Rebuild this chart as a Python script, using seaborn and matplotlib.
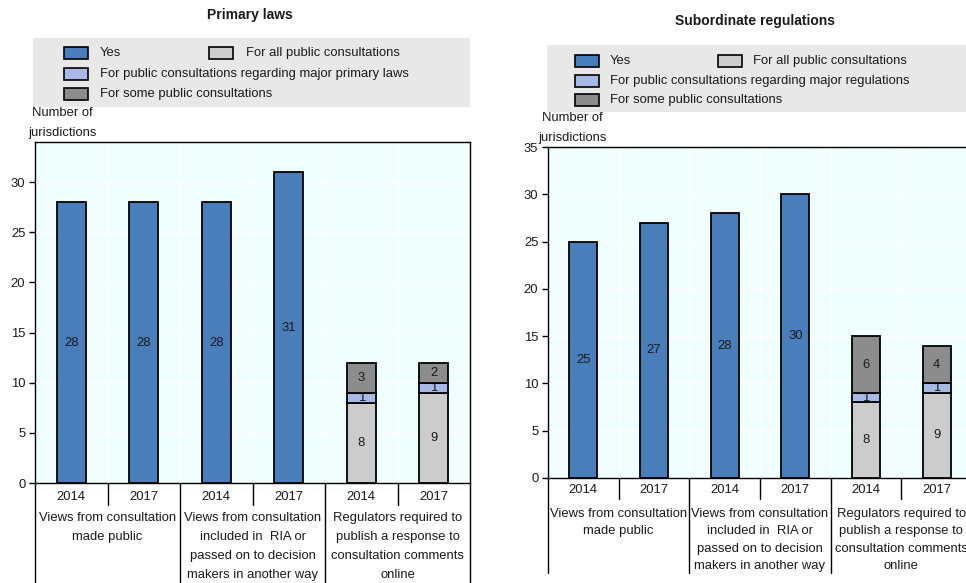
import matplotlib
matplotlib.use("Agg")
import matplotlib.pyplot as plt
import seaborn as sns
import pandas as pd
import numpy as np
from matplotlib.patches import Rectangle
from matplotlib.transforms import blended_transform_factory

# ---- data -------------------------------------------------------------
years = ["2014", "2017", "2014", "2017", "2014", "2017"]
groups = [
    "Views from consultation\nmade public",
    "Views from consultation\nincluded in  RIA or\npassed on to decision\nmakers in another way",
    "Regulators required to\npublish a response to\nconsultation comments\nonline",
]

primary_yes = [28, 28, 28, 31, 0, 0]
primary_all = [0, 0, 0, 0, 8, 9]
primary_major = [0, 0, 0, 0, 1, 1]
primary_some = [0, 0, 0, 0, 3, 2]

subordinate_yes = [25, 27, 28, 30, 0, 0]
subordinate_all = [0, 0, 0, 0, 8, 9]
subordinate_major = [0, 0, 0, 0, 1, 1]
subordinate_some = [0, 0, 0, 0, 6, 4]

label_yes = "Yes"
label_all = "For all public consultations"
label_major_primary = "For public consultations regarding major primary laws"
label_major_sub = "For public consultations regarding major regulations"
label_some = "For some public consultations"

# ---- style ------------------------------------------------------------
C_YES = "#4a7ebb"
C_ALL = "#cccccc"
C_MAJOR = "#a8b9e6"
C_SOME = "#8c8c8c"
C_BG = "#f0fefe"
C_LEG = "#e8e8e8"
TXT = "#1a1a1a"
FS = 9.4

sns.set_theme(style="white")
plt.rcParams["font.family"] = ["Liberation Sans", "DejaVu Sans"]
plt.rcParams["text.color"] = TXT

W, H = 966, 583
fig = plt.figure(figsize=(W / 100, H / 100), dpi=100)
fig.patch.set_facecolor("white")


def fx(px):
    return px / W


def fy(py):
    return 1 - py / H


def draw_panel(ax, layers, ymax, ax_h_px, depth_px, short_px, year_px, group_px, lsp):
    slots = [f"c{i}" for i in range(len(years))]
    base = np.zeros(len(years))
    for values, color in layers:
        vals = np.asarray(values, dtype=float)
        keep = vals > 0
        df = pd.DataFrame({"slot": np.array(slots)[keep], "value": vals[keep]})
        sns.barplot(data=df, x="slot", y="value", order=slots, color=color,
                    saturation=1, width=0.4, errorbar=None, edgecolor="black",
                    linewidth=1.3, bottom=base[keep], ax=ax, zorder=3)
        ax.bar_label(ax.containers[-1], labels=[f"{int(v)}" for v in vals[keep]],
                     label_type="center", fontsize=FS, color=TXT)
        base += vals

    ax.set_facecolor(C_BG)
    ax.set_xlim(-0.5, len(years) - 0.5)
    ax.set_ylim(0, ymax)
    ax.set_yticks(np.arange(0, ymax + 0.1, 5))
    ax.set_xlabel("")
    ax.set_ylabel("")
    ax.yaxis.grid(True, color="white", linewidth=1.0)
    for xb in np.arange(0.5, len(years) - 0.5, 1.0):
        ax.axvline(xb, color="white", linewidth=1.0, zorder=0.5)
    ax.set_axisbelow(True)
    ax.tick_params(axis="x", bottom=False, labelbottom=False)
    ax.tick_params(axis="y", left=True, length=4, width=1, color="black",
                   labelsize=FS, labelcolor=TXT, pad=3)
    for s in ax.spines.values():
        s.set_visible(True)
        s.set_color("black")
        s.set_linewidth(1.0)

    # category table beneath the bars
    trans = blended_transform_factory(ax.transData, ax.transAxes)
    for xb in [-0.5, 1.5, 3.5, 5.5]:
        ax.plot([xb, xb], [0, -depth_px / ax_h_px], transform=trans,
                color="black", lw=1.0, clip_on=False)
    for xb in [0.5, 2.5, 4.5]:
        ax.plot([xb, xb], [0, -short_px / ax_h_px], transform=trans,
                color="black", lw=1.0, clip_on=False)
    for i, y in enumerate(years):
        ax.text(i, -year_px / ax_h_px, y, transform=trans, ha="center",
                va="center", fontsize=FS, color=TXT)
    for j, g in enumerate(groups):
        ax.text(2 * j + 0.5, -group_px / ax_h_px, g, transform=trans,
                ha="center", va="top", fontsize=FS, color=TXT, linespacing=lsp)


def draw_legend(x0, y0, x1, y1, rows_y, patch_x, text_x, col2_patch_x, col2_text_x,
                entries, col2_entry):
    fig.patches.append(Rectangle((fx(x0), fy(y1)), fx(x1 - x0), (y1 - y0) / H,
                                 transform=fig.transFigure, facecolor=C_LEG,
                                 edgecolor="none", zorder=0))
    pw, ph = 24, 12
    for (lab, col), ry in zip(entries, rows_y):
        fig.patches.append(Rectangle((fx(patch_x), fy(ry + ph / 2)), fx(pw), ph / H,
                                     transform=fig.transFigure, facecolor=col,
                                     edgecolor="black", linewidth=1.2, zorder=1))
        fig.text(fx(text_x), fy(ry), lab, ha="left", va="center", fontsize=FS, color=TXT)
    lab, col = col2_entry
    ry = rows_y[0]
    fig.patches.append(Rectangle((fx(col2_patch_x), fy(ry + ph / 2)), fx(pw), ph / H,
                                 transform=fig.transFigure, facecolor=col,
                                 edgecolor="black", linewidth=1.2, zorder=1))
    fig.text(fx(col2_text_x), fy(ry), lab, ha="left", va="center", fontsize=FS, color=TXT)


# ---- left panel: primary laws -----------------------------------------
ax1 = fig.add_axes([fx(35), fy(483), fx(470 - 35), (483 - 142) / H])
draw_panel(ax1,
           [(primary_yes, C_YES), (primary_all, C_ALL),
            (primary_major, C_MAJOR), (primary_some, C_SOME)],
           34, 341, 100, 22, 14, 29, 1.78)
fig.text(fx(250), fy(15), "Primary laws", ha="center", va="center",
         fontsize=10, fontweight="bold", color=TXT)
fig.text(fx(62), fy(123), "Number of\njurisdictions", ha="center", va="center",
         fontsize=FS, color=TXT, linespacing=1.8)
draw_legend(33, 38, 470, 107, [53, 74, 94], 64, 100, 209, 246,
            [(label_yes, C_YES), (label_major_primary, C_MAJOR), (label_some, C_SOME)],
            (label_all, C_ALL))

# ---- right panel: subordinate regulations -----------------------------
ax2 = fig.add_axes([fx(548), fy(478), fx(424), (478 - 147) / H])
draw_panel(ax2,
           [(subordinate_yes, C_YES), (subordinate_all, C_ALL),
            (subordinate_major, C_MAJOR), (subordinate_some, C_SOME)],
           35, 331, 95, 21, 12, 30, 1.6)
fig.text(fx(755), fy(21), "Subordinate regulations", ha="center", va="center",
         fontsize=10, fontweight="bold", color=TXT)
fig.text(fx(572), fy(128), "Number of\njurisdictions", ha="center", va="center",
         fontsize=FS, color=TXT, linespacing=1.8)
draw_legend(547, 45, 975, 112, [61, 81, 100], 575, 610, 718, 753,
            [(label_yes, C_YES), (label_major_sub, C_MAJOR), (label_some, C_SOME)],
            (label_all, C_ALL))

fig.savefig("out.png", dpi=100, facecolor="white")
